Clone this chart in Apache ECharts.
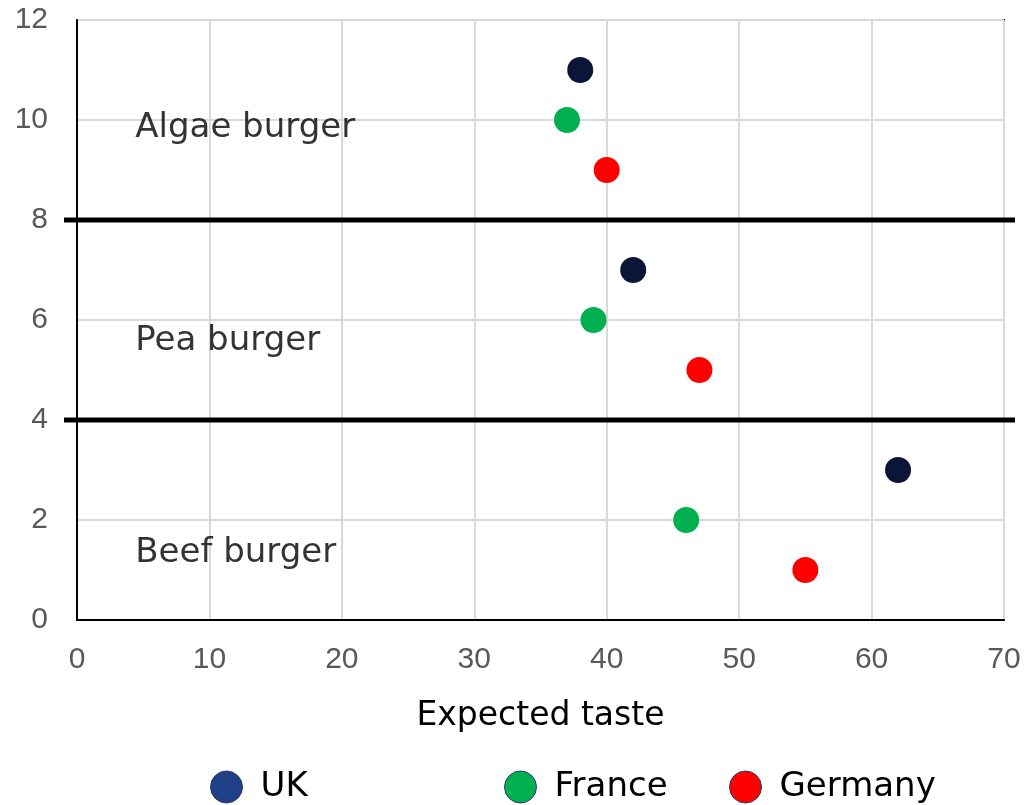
<!DOCTYPE html>
<html>
<head>
<meta charset="utf-8">
<script src="https://cdn.jsdelivr.net/npm/echarts@6/dist/echarts.min.js"></script>
<style>
  html, body { margin: 0; padding: 0; background: #fff; }
  #chart { width: 1028px; height: 805px; }
</style>
</head>
<body>
<div id="chart"></div>
<script>
// Expected taste scores per burger type and country (x = score, y = row position)
const ukData      = [[38, 11], [42, 7], [62, 3]];
const franceData  = [[37, 10], [39, 6], [46, 2]];
const germanyData = [[40, 9], [47, 5], [55, 1]];

// Group labels and the value rows they sit beside
const groupNames  = ['Algae burger', 'Pea burger', 'Beef burger'];
const groupAnchor = [[4.4, 9.84], [4.4, 5.58], [4.4, 1.34]];

// Row values where the groups are separated
const separators = [8, 4];

const seriesNames   = ['UK', 'France', 'Germany'];
const markerColors  = ['#0b1538', '#00b050', '#ff0000'];
const legendColors  = ['#1f3f86', '#00b050', '#ff0000'];

const chart = echarts.init(document.getElementById('chart'));

const tickFont = { color: '#595959', fontSize: 30, fontFamily: '"Liberation Sans", Arial, sans-serif' };
const textFont = '"DejaVu Sans", sans-serif';

function scatter(name, data, i) {
  return {
    name: name,
    type: 'scatter',
    data: data,
    symbol: 'circle',
    symbolSize: 26,
    itemStyle: { color: markerColors[i], opacity: 1 },
    emphasis: { disabled: true },
    z: 5
  };
}

const legendLefts = [205, 499, 724];

chart.setOption({
  animation: false,
  grid: {
    left: 77, right: 24, top: 20, bottom: 185,
    show: true, borderColor: '#000', borderWidth: 2
  },
  legend: seriesNames.map((n, i) => ({
    data: [{ name: n, itemStyle: { color: legendColors[i], borderColor: '#2a3a6a', borderWidth: 1, opacity: 1 } }],
    left: legendLefts[i],
    top: 765,
    icon: 'circle',
    itemWidth: 32,
    itemHeight: 32,
    itemGap: 0,
    textStyle: { fontSize: 34, color: '#000', fontFamily: textFont, padding: [0, 0, 0, 13] },
    selectedMode: false
  })),
  xAxis: {
    type: 'value',
    min: 0, max: 70, interval: 10,
    name: 'Expected taste',
    nameLocation: 'middle',
    nameGap: 80,
    nameTextStyle: { fontSize: 33, color: '#000', fontFamily: textFont },
    axisLine: { show: true, onZero: false, lineStyle: { color: '#000', width: 2 } },
    axisTick: { show: false },
    axisLabel: Object.assign({ margin: 25 }, tickFont),
    splitLine: { show: true, lineStyle: { color: '#d9d9d9', width: 2 } }
  },
  yAxis: {
    type: 'value',
    min: 0, max: 12, interval: 2,
    axisLine: { show: true, lineStyle: { color: '#000', width: 2 } },
    axisTick: { show: false },
    axisLabel: Object.assign({ margin: 29 }, tickFont),
    splitLine: { show: true, lineStyle: { color: '#d9d9d9', width: 2 } }
  },
  series: [
    scatter('UK', ukData, 0),
    scatter('France', franceData, 1),
    scatter('Germany', germanyData, 2),
    {
      // group names written beside each block of rows
      type: 'scatter',
      data: groupAnchor.map((p, i) => ({ value: p, name: groupNames[i] })),
      symbolSize: 0,
      silent: true,
      label: {
        show: true,
        position: 'right',
        distance: 0,
        formatter: p => p.name,
        fontSize: 34,
        color: '#000',
        fontFamily: textFont
      },
      z: 4
    },
    {
      // thick separators between groups, reaching past the plot frame
      type: 'custom',
      clip: false,
      silent: true,
      data: separators.map(v => [v]),
      renderItem: function (params, api) {
        const y = api.value(0);
        const a = api.coord([0, y]);
        const b = api.coord([70, y]);
        return {
          type: 'line',
          shape: { x1: a[0] - 13, y1: a[1], x2: b[0] + 11, y2: b[1] },
          style: { stroke: '#000', lineWidth: 5 }
        };
      },
      z: 6
    }
  ]
});
</script>
</body>
</html>
